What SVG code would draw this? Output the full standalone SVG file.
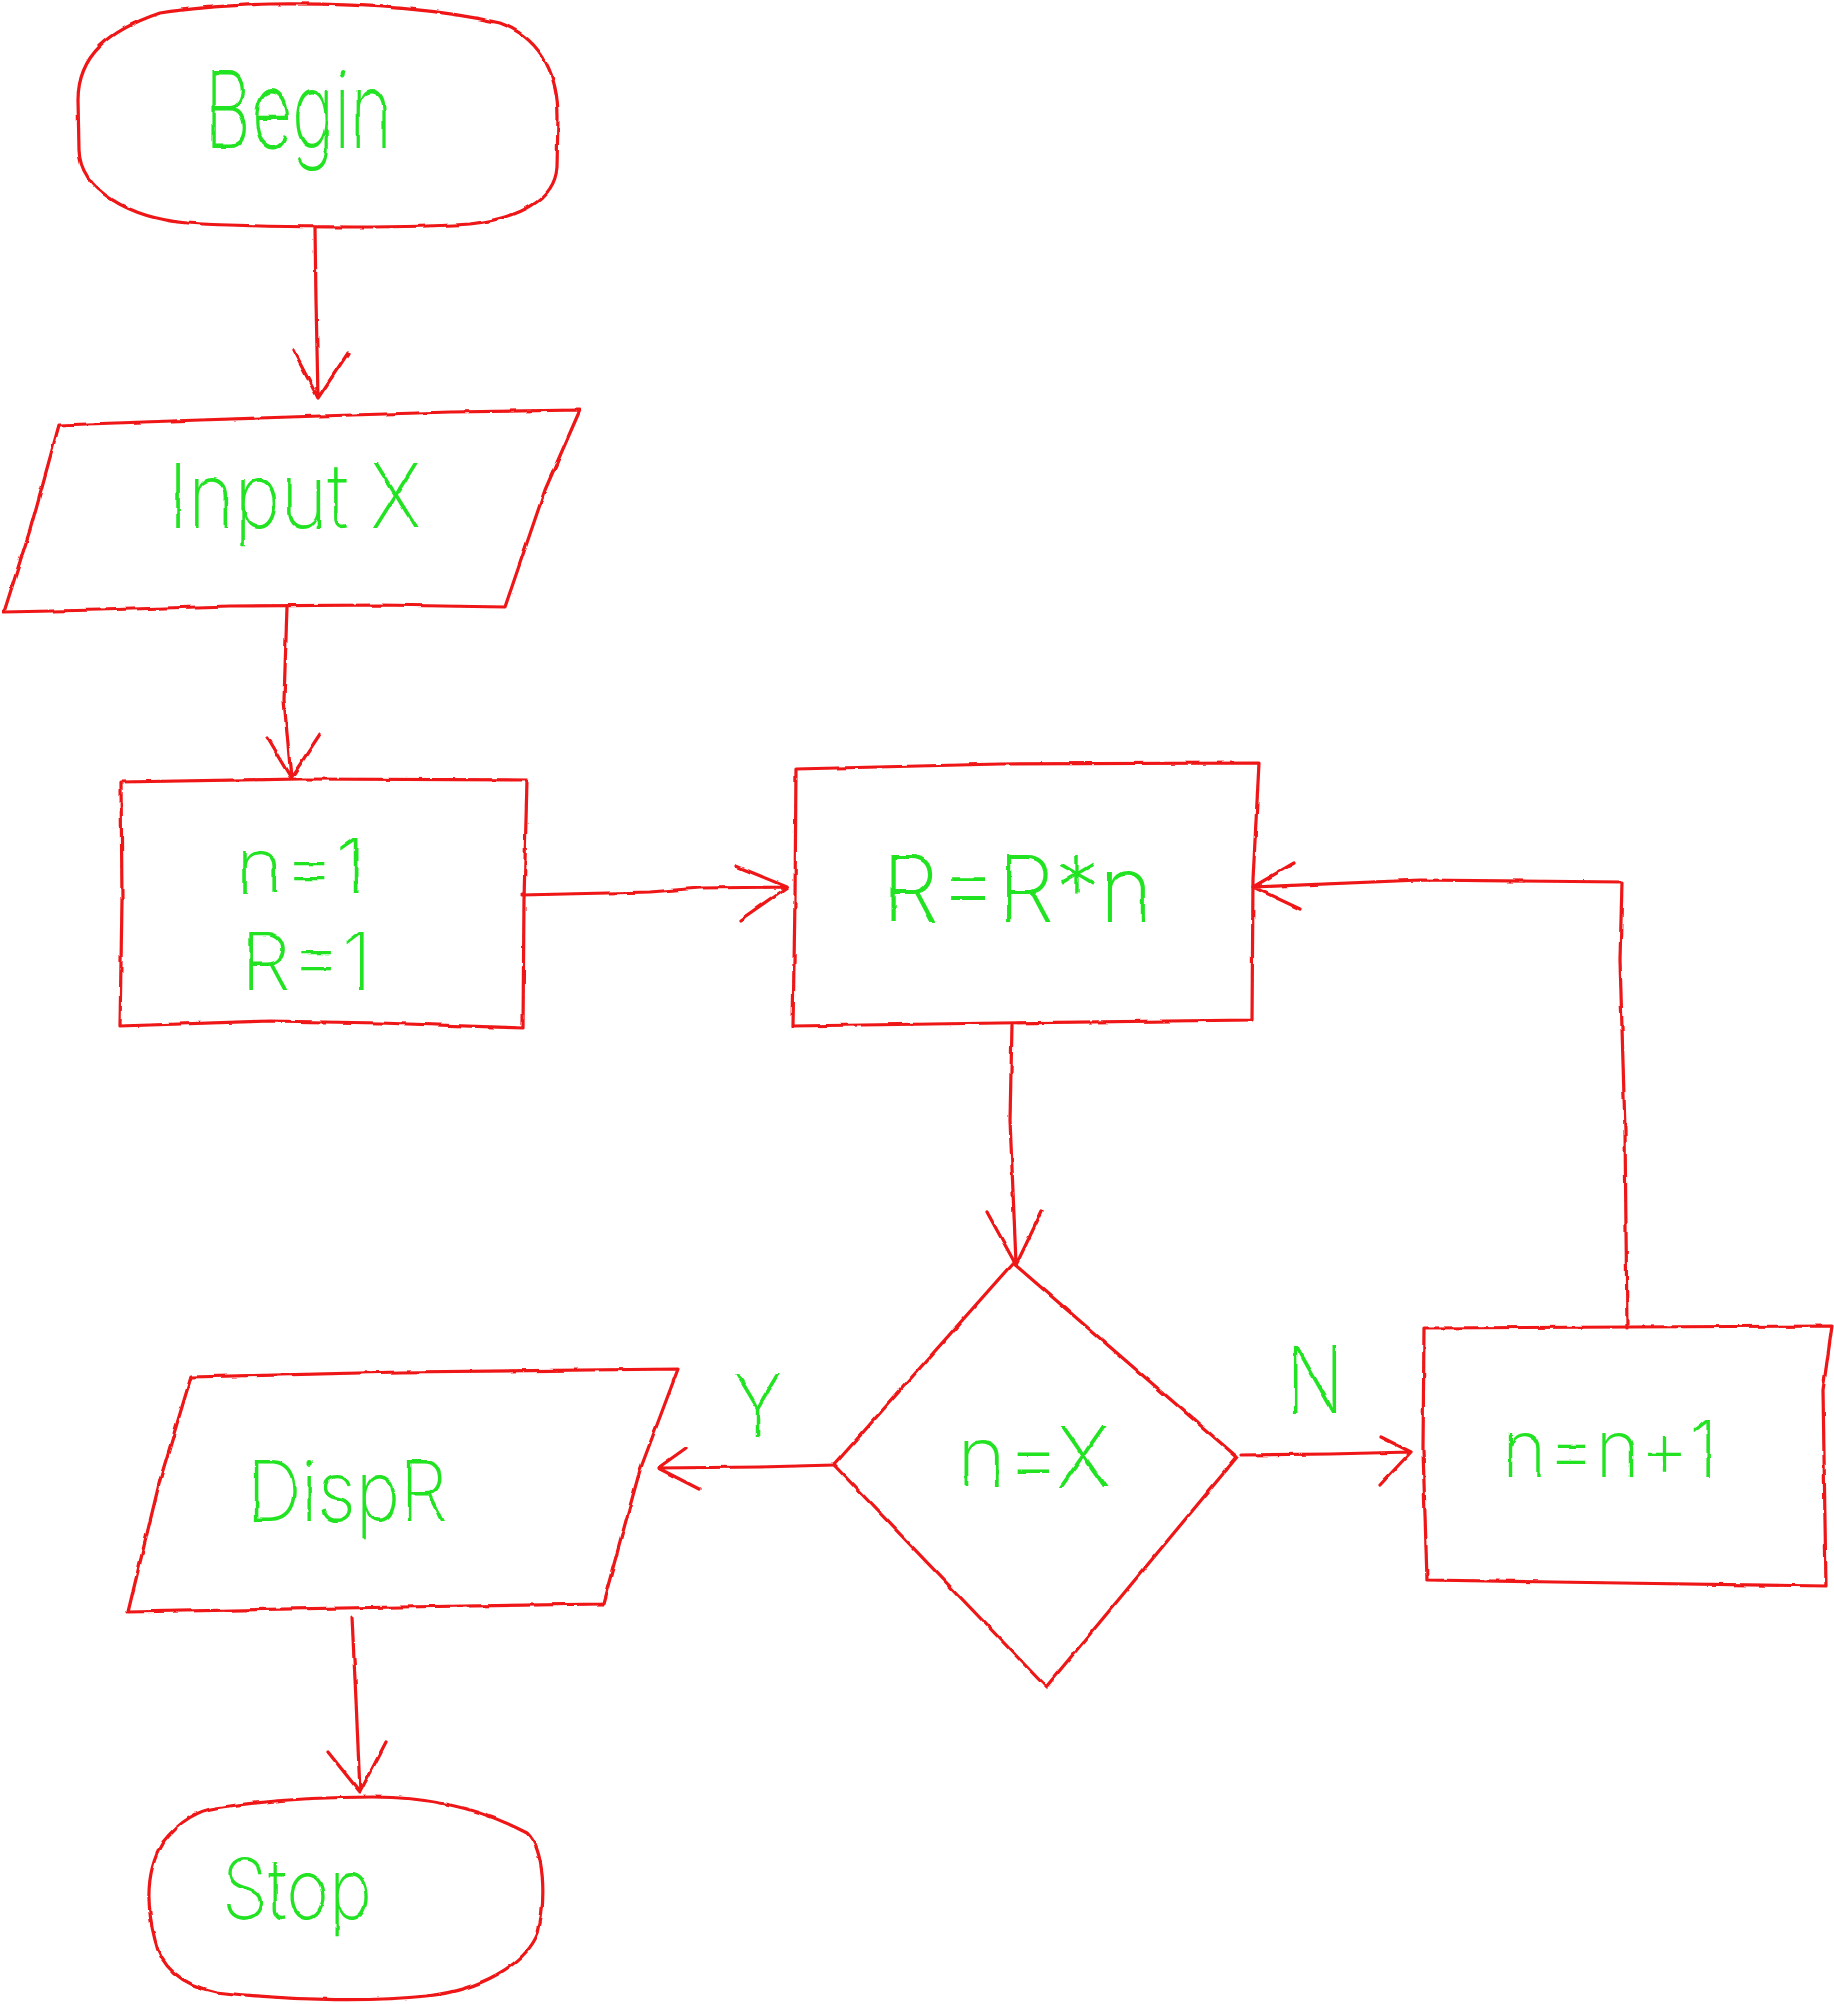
<svg xmlns="http://www.w3.org/2000/svg" width="1834" height="2004" viewBox="0 0 1834 2004">
<defs>
<filter id="wobble" x="-5%" y="-5%" width="110%" height="110%">
<feTurbulence type="fractalNoise" baseFrequency="0.06" numOctaves="2" seed="3" result="n"/>
<feDisplacementMap in="SourceGraphic" in2="n" scale="3" xChannelSelector="R" yChannelSelector="G"/>
</filter>
</defs>
<style>
.s{fill:none;stroke:#ee1414;stroke-width:3.2;stroke-linejoin:round;stroke-linecap:round}
.t{fill:#22e322;font-family:Inter,"Liberation Sans",sans-serif;font-weight:200}
</style>
<rect width="1834" height="2004" fill="#ffffff"/>
<g filter="url(#wobble)">
<g id="begin">
<path class="s" d="M 270 4 C 350 3 430 7 500 23 C 545 40 558 80 558 117 L 557 167 C 555 200 520 218 470 224 C 400 229 250 227 187 223 C 130 218 80 190 79 150 L 78 100 C 78 55 110 30 160 13 C 200 7 240 5 270 4 Z"/>
<text class="t" x="205" y="148" font-size="107" textLength="187" lengthAdjust="spacingAndGlyphs">Begin</text>
</g>
<g id="input">
<path class="s" d="M 59 425 L 200 420 L 320 416 L 450 412 L 580 410 L 545 490 L 505 607 L 380 605 L 230 606 L 100 610 L 4 612 L 30 530 Z"/>
<text class="t" x="168" y="528" font-size="90" textLength="253" lengthAdjust="spacingAndGlyphs">Input X</text>
</g>
<g id="init">
<path class="s" d="M 121 782 L 300 779 L 527 780 L 524 900 L 523 1028 L 380 1023 L 270 1021 L 120 1026 L 122 900 Z"/>
<text class="t" x="236" y="893" font-size="76" textLength="130" lengthAdjust="spacingAndGlyphs">n=1</text>
<text class="t" x="241" y="990" font-size="80" textLength="131" lengthAdjust="spacingAndGlyphs">R=1</text>
</g>
<g id="multiply">
<path class="s" d="M 796 769 L 1000 764 L 1259 763 L 1253 880 L 1252 1020 L 1000 1023 L 793 1026 L 795 900 Z"/>
<text class="t" x="882" y="922" font-size="92" textLength="271" lengthAdjust="spacingAndGlyphs">R=R*n</text>
</g>
<g id="decision">
<path class="s" d="M 1013 1263 L 1237 1457 L 1046 1687 L 834 1465 Z"/>
<text class="t" x="957" y="1487" font-size="85" textLength="153" lengthAdjust="spacingAndGlyphs">n=X</text>
</g>
<g id="increment">
<path class="s" d="M 1424 1328 L 1630 1327 L 1832 1326 L 1823 1390 L 1826 1586 L 1620 1583 L 1427 1580 L 1423 1450 Z"/>
<text class="t" x="1502" y="1477" font-size="80" textLength="216" lengthAdjust="spacingAndGlyphs">n=n+1</text>
</g>
<g id="display">
<path class="s" d="M 191 1377 L 400 1372 L 678 1369 L 640 1470 L 603 1604 L 400 1607 L 128 1612 L 160 1480 Z"/>
<text class="t" x="247" y="1521" font-size="84" textLength="200" lengthAdjust="spacingAndGlyphs">DispR</text>
</g>
<g id="stop">
<path class="s" d="M 373 1797 C 430 1797 480 1808 527 1833 C 545 1850 546 1900 538 1933 C 525 1965 480 1990 427 1996 C 380 2001 300 2002 216 1992 C 180 1985 160 1965 155 1940 C 146 1905 146 1870 163 1842 C 180 1820 200 1810 216 1808 C 270 1800 320 1797 373 1797 Z"/>
<text class="t" x="222" y="1919" font-size="84" textLength="150" lengthAdjust="spacingAndGlyphs">Stop</text>
</g>
<g id="connectors">
<path class="s" d="M 315 228 L 316 300 L 318 398 M 293 350 L 318 398 L 348 353"/>
<path class="s" d="M 287 607 L 284 700 L 291 778 M 267 738 L 291 778 L 320 734"/>
<path class="s" d="M 522 895 L 650 892 L 700 888 L 787 887 M 736 866 L 787 887 L 740 920"/>
<path class="s" d="M 1012 1025 L 1010 1120 L 1016 1263 M 987 1212 L 1016 1265 L 1042 1211"/>
<path class="s" d="M 834 1465 L 760 1467 L 658 1468 M 686 1448 L 658 1468 L 699 1489"/>
<path class="s" d="M 1242 1455 L 1330 1454 L 1411 1452 M 1381 1437 L 1411 1452 L 1380 1485"/>
<path class="s" d="M 1627 1328 L 1625 1130 L 1620 960 L 1622 882 L 1420 880 L 1253 887 M 1294 863 L 1253 887 L 1300 909"/>
<path class="s" d="M 352 1617 L 356 1700 L 360 1792 M 328 1752 L 360 1792 L 386 1742"/>
<text class="t" x="733" y="1437" font-size="87" textLength="49" lengthAdjust="spacingAndGlyphs">Y</text>
<text class="t" x="1286" y="1413" font-size="93" textLength="58" lengthAdjust="spacingAndGlyphs">N</text>
</g>
</g>
</svg>
